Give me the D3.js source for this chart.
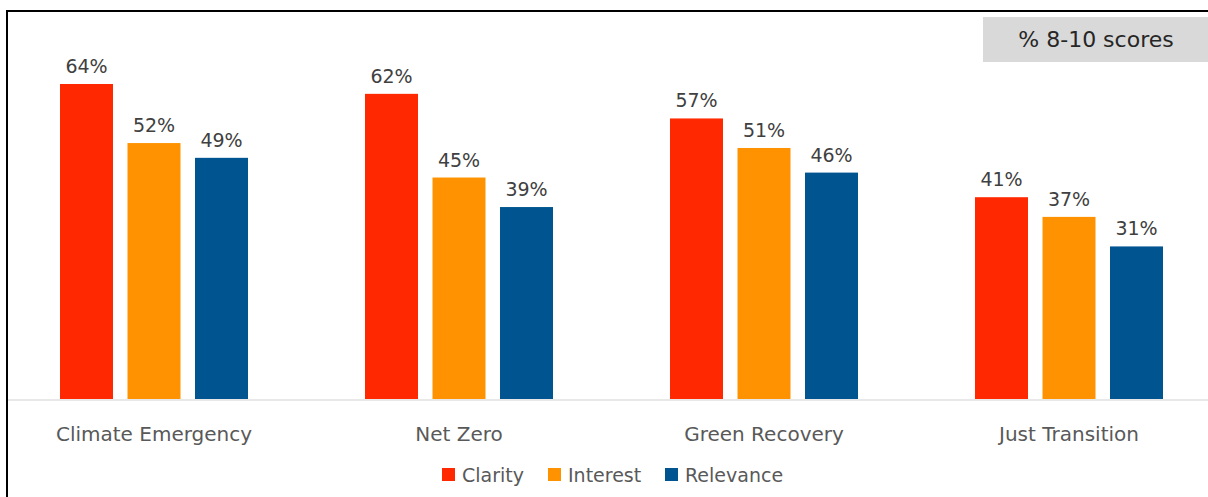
<!DOCTYPE html>
<html><head><meta charset="utf-8">
<script src="https://cdn.jsdelivr.net/npm/d3@7"></script>
<style>body{margin:0;background:#fff;} svg{display:block;}</style>
</head><body>
<script>
const categories = ["Climate Emergency", "Net Zero", "Green Recovery", "Just Transition"];
const seriesNames = ["Clarity", "Interest", "Relevance"];
const clarity = [64, 62, 57, 41];
const interest = [52, 45, 51, 37];
const relevance = [49, 39, 46, 31];
const colors = ["#FF2800", "#FF9200", "#00548F"];
const boxLabel = "% 8-10 scores";

const W = 1208, H = 497;
const svg = d3.select("body").append("svg").attr("width", W).attr("height", H);
const font = "'DejaVu Sans', sans-serif";

const x0 = d3.scaleBand().domain(categories).range([1.5, 1221.5]).padding(0);
const x1 = d3.scaleBand().domain(seriesNames).range([0, 188]).paddingInner(0.215).paddingOuter(0);
const y = d3.scaleLinear().domain([0, 64]).range([399, 84]);

const values = [clarity, interest, relevance];
const data = [];
categories.forEach((c, i) => seriesNames.forEach((s, j) => data.push({c, s, v: values[j][i], j})));

// frame
svg.append("line").attr("x1", 7).attr("x2", 7).attr("y1", 10).attr("y2", H).attr("stroke", "#000").attr("stroke-width", 2);
svg.append("line").attr("x1", 6).attr("x2", W).attr("y1", 11).attr("y2", 11).attr("stroke", "#000").attr("stroke-width", 2);

// baseline
svg.append("line").attr("x1", 8).attr("x2", W).attr("y1", 400).attr("y2", 400).attr("stroke", "#e8e8e8").attr("stroke-width", 2);

const groupOffset = (x0.bandwidth() - 188) / 2;

svg.selectAll("rect.bar").data(data).join("rect").attr("class", "bar")
  .attr("x", d => x0(d.c) + groupOffset + x1(d.s))
  .attr("width", x1.bandwidth())
  .attr("y", d => y(d.v))
  .attr("height", d => y(0) - y(d.v))
  .attr("fill", d => colors[d.j]);

svg.selectAll("text.val").data(data).join("text").attr("class", "val")
  .attr("x", d => x0(d.c) + groupOffset + x1(d.s) + x1.bandwidth() / 2)
  .attr("y", d => y(d.v) - 11)
  .attr("text-anchor", "middle")
  .attr("font-family", font).attr("font-size", 19).attr("fill", "#404040")
  .text(d => d.v + "%");

// x axis labels
const xAxis = d3.axisBottom(x0).tickSize(0).tickPadding(0);
const gx = svg.append("g").attr("transform", "translate(0,400)").call(xAxis);
gx.select(".domain").remove();
gx.selectAll("text").attr("font-family", font).attr("font-size", 20).attr("fill", "#595959").attr("dy", null).attr("y", 41);

// legend
const legendX = [442, 548, 665];
seriesNames.forEach((s, j) => {
  svg.append("rect").attr("x", legendX[j]).attr("y", 468).attr("width", 13).attr("height", 13).attr("fill", colors[j]);
  svg.append("text").attr("x", legendX[j] + 20).attr("y", 482)
    .attr("font-family", font).attr("font-size", 19).attr("fill", "#595959").text(s);
});

// box
svg.append("rect").attr("x", 983).attr("y", 17).attr("width", 230).attr("height", 45).attr("fill", "#d9d9d9");
svg.append("text").attr("x", 1096).attr("y", 47).attr("text-anchor", "middle")
  .attr("font-family", font).attr("font-size", 22).attr("fill", "#262626").text(boxLabel);
</script>
</body></html>
